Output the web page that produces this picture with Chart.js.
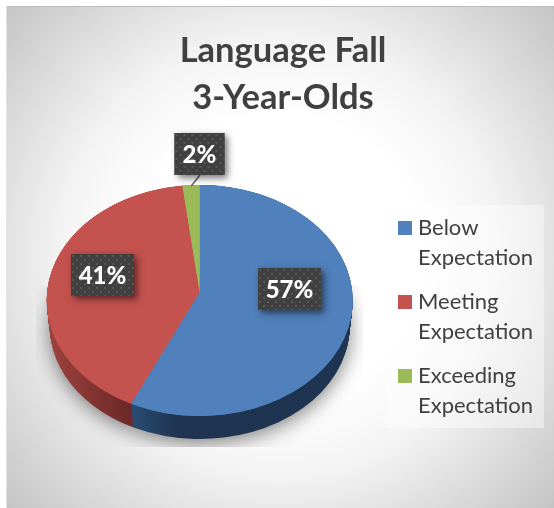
<!DOCTYPE html>
<html><head><meta charset="utf-8">
<style>html,body{margin:0;padding:0;background:#fff}#w{width:554px;height:508px;position:relative}canvas{display:block}</style>
<script src="https://cdn.jsdelivr.net/npm/chart.js@4"></script>
</head><body><div id="w"><canvas id="c" width="554" height="508"></canvas></div>
<script>
const categories = [["Below","Expectation"],["Meeting","Expectation"],["Exceeding","Expectation"]];
const values = [57.4, 40.8, 1.8];
const titleLines = ["Language Fall","3-Year-Olds"];
const colors = ["#5081BC","#C4524F","#9BBB59"];

// geometry of the tilted pie
const P = {cx:199.7, cy:300.5, rx:153, ry:115.5, apexY:292, botCx:199.7, botCy:326, botRx:150, botRy:113, layers:24};
const labelCenters = [[289.5,289],[102.5,275],[200,154]];
const LW=63, LH=42;

function rim(a, k){ k=k||1; return [P.cx+P.rx*k*Math.cos(a), P.cy+P.ry*k*Math.sin(a)]; }

function transformTo(ctx, arc, cx, cy, rx, ry){
  ctx.translate(cx,cy);
  ctx.scale(rx/arc.outerRadius, ry/arc.outerRadius);
  ctx.translate(-arc.x,-arc.y);
}
function drawWith(arc, ctx, fill, startA, circ){
  const o = arc.options, s=arc.startAngle, e=arc.endAngle, c=arc.circumference;
  if(fill){ arc.options = Object.assign({}, o, {backgroundColor:fill}); }
  if(startA!==undefined){ arc.startAngle=startA; arc.circumference=circ; arc.endAngle=startA+circ; }
  arc.draw(ctx);
  arc.options=o; arc.startAngle=s; arc.endAngle=e; arc.circumference=c;
}
const panelPlugin = {
  id:'panel',
  afterLayout(chart){
    const t=chart.titleBlock, l=chart.legend;
    t.left=0; t.right=566; t.top=28; t.bottom=122;
    l.left=388; l.right=544; l.top=202; l.bottom=524;
  },
  beforeDraw(chart){
    const ctx=chart.ctx; ctx.save();
    ctx.fillStyle='#fff'; ctx.fillRect(0,0,554,508);
    const g=ctx.createRadialGradient(280,257,0,280,257,372);
    g.addColorStop(0,'#ffffff'); g.addColorStop(.38,'#ffffff'); g.addColorStop(.58,'#f4f4f4');
    g.addColorStop(.72,'#e4e4e4'); g.addColorStop(1,'#c4c4c4');
    ctx.fillStyle=g; ctx.fillRect(6,6,548,502);
    ctx.fillStyle='#bdbdbd'; ctx.fillRect(6,6,548,1);
    ctx.fillStyle='#e4e4e4'; ctx.fillRect(6,6,1,502);
    ctx.fillStyle='rgba(255,255,255,.42)'; ctx.fillRect(386,205,158,223);
    ctx.restore();
  },
  beforeDatasetsDraw(chart){
    const ctx=chart.ctx, arcs=chart.getDatasetMeta(0).data;
    const sideGrad=[['#2b4d76',130,'#1e3450',178],['#a04340',47,'#6c2927',130],['#5f7335',0,'#5f7335',10]];
    const arc0=arcs[0], sx=arc0.outerRadius/P.botRx;
    const grads=sideGrad.map(s=>{
      const g=ctx.createLinearGradient(arc0.x+(s[1]-P.botCx)*sx,0,arc0.x+(s[3]-P.botCx)*sx,0);
      g.addColorStop(0,s[0]); g.addColorStop(1,s[2]); return g;
    });
    // soft shadow + extruded side
    for(let i=P.layers;i>=0;i--){
      const t=i/P.layers;
      const cx=P.cx+(P.botCx-P.cx)*t, cy=P.cy+(P.botCy-P.cy)*t,
            rx=P.rx+(P.botRx-P.rx)*t, ry=P.ry+(P.botRy-P.ry)*t;
      arcs.forEach((arc,k)=>{
        ctx.save();
        if(i===P.layers){
          ctx.beginPath(); ctx.rect(36,285,327,162); ctx.clip();
          ctx.shadowColor='rgba(0,0,0,.5)'; ctx.shadowBlur=20; ctx.shadowOffsetY=4;
        }
        transformTo(ctx,arc,cx,cy,rx,ry);
        drawWith(arc,ctx,grads[k]);
        ctx.restore();
      });
    }
    // top face
    arcs.forEach(arc=>{ ctx.save(); transformTo(ctx,arc,P.cx,P.cy,P.rx,P.ry); arc.draw(ctx); ctx.restore(); });
    // wedges meet at the perspective apex, not the ellipse centre
    arcs.forEach(arc=>{
      const a0=arc.startAngle, a1=arc.endAngle;
      ctx.save(); ctx.beginPath(); ctx.moveTo(P.cx,P.apexY);
      const r0=rim(a0), r1=rim(a1);
      ctx.lineTo(P.cx+(r0[0]-P.cx)*1.2, P.apexY+(r0[1]-P.apexY)*1.2);
      const n=Math.ceil((a1-a0)/0.08);
      for(let j=1;j<n;j++){ const p=rim(a0+(a1-a0)*j/n,1.3); ctx.lineTo(p[0],p[1]); }
      ctx.lineTo(P.cx+(r1[0]-P.cx)*1.2, P.apexY+(r1[1]-P.apexY)*1.2);
      ctx.closePath(); ctx.clip();
      transformTo(ctx,arc,P.cx,P.cy,P.rx,P.ry);
      const w=(Math.PI*2-arc.circumference)/2-0.002;
      drawWith(arc,ctx,null,a0-w,arc.circumference+2*w);
      ctx.restore();
    });
    return false;
  },
  afterDraw(chart){
    const ctx=chart.ctx, arcs=chart.getDatasetMeta(0).data;
    const total=values.reduce((a,b)=>a+b,0);
    // dotted tile for label boxes
    const tile=document.createElement('canvas'); tile.width=8; tile.height=8;
    const tc=tile.getContext('2d'); tc.fillStyle='#404040'; tc.fillRect(0,0,8,8);
    tc.fillStyle='#565656'; tc.fillRect(1,1,2,2); tc.fillRect(5,5,2,2);
    arcs.forEach((arc,i)=>{
      const c=labelCenters[i], x=c[0]-LW/2+(i===2?6:0), w=LW-(i===2?13:0), y=c[1]-LH/2;
      ctx.save();
      if(i===2){
        const m=(arc.startAngle+arc.endAngle)/2, p=rim(m);
        ctx.strokeStyle='#6b6b6b'; ctx.lineWidth=1.6;
        ctx.beginPath(); ctx.moveTo(c[0],y+LH); ctx.lineTo(p[0],p[1]+1); ctx.stroke();
      }
      ctx.save();
      ctx.shadowColor='rgba(0,0,0,.55)'; ctx.shadowBlur=7; ctx.shadowOffsetX=3; ctx.shadowOffsetY=3;
      ctx.fillStyle='#404040'; ctx.fillRect(x,y,w,LH);
      ctx.restore();
      ctx.translate(x,y); ctx.fillStyle=ctx.createPattern(tile,'repeat'); ctx.fillRect(0,0,w,LH); ctx.translate(-x,-y);
      ctx.fillStyle='#fff'; ctx.font='900 24px Lato'; ctx.textAlign='center'; ctx.textBaseline='middle';
      ctx.fillText(Math.round(values[i]/total*100)+'%',x+w/2,c[1]+1);
      ctx.restore();
    });
  }
};
new Chart(document.getElementById('c'),{
  type:'pie',
  data:{labels:categories,datasets:[{data:values,backgroundColor:colors,borderWidth:0}]},
  plugins:[panelPlugin],
  options:{
    responsive:false,animation:false,
    layout:{padding:0},
    plugins:{
      tooltip:{enabled:false},
      title:{display:true,text:titleLines,align:'center',color:'#404040',
        font:{family:'Lato',weight:'700',size:34.5,lineHeight:'46.5px'},padding:{top:0,bottom:0}},
      legend:{display:true,position:'right',align:'start',
        labels:{boxWidth:4,boxHeight:4,padding:15,color:'#404040',
          font:{family:'Lato',size:22,lineHeight:'29.5px'},
          generateLabels(chart){
            return chart.data.labels.map((t,i)=>({text:t,fillStyle:colors[i],strokeStyle:colors[i],lineWidth:10,hidden:false,index:i,fontColor:'#404040'}));
          }}}
    }
  }
});
</script></body></html>
